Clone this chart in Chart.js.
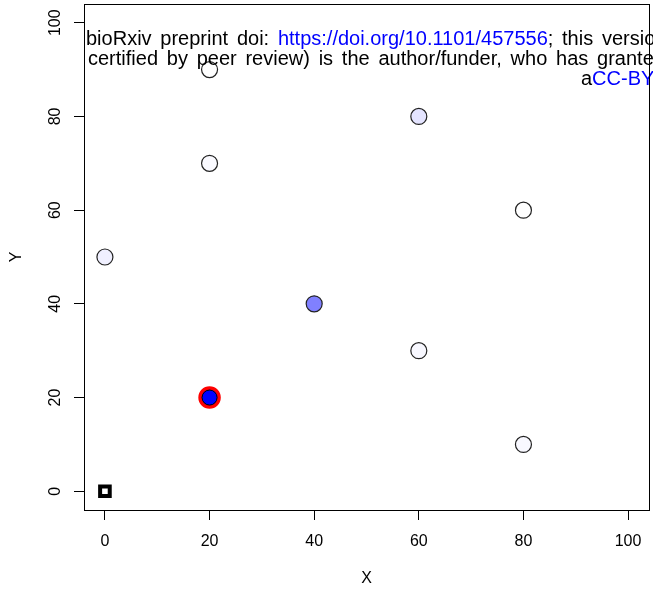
<!DOCTYPE html>
<html>
<head>
<meta charset="utf-8">
<script src="https://cdn.jsdelivr.net/npm/chart.js@4.4.0/dist/chart.umd.min.js"></script>
<style>
  html, body { margin: 0; padding: 0; background: #fff; }
</style>
</head>
<body>
<canvas id="chart" width="653" height="595"></canvas>
<script>
// points
const xValues = [0, 20, 20, 60, 80, 40, 60, 20, 80];
const yValues = [50, 90, 70, 80, 60, 40, 30, 20, 10];
const fillColors = ['#f0f0ff', '#ffffff', '#fafaff', '#e4e4ff', '#ffffff', '#8080ff', '#f8f8ff', '#0000ff', '#f8f8ff'];
const highlightIndex = 7; // the (20,20) point with the red ring
const originX = [0];
const originY = [0];
const tickValues = [0, 20, 40, 60, 80, 100];

// preprint watermark lines: [text, colour]
const noteLine1 = [['bioRxiv preprint doi: ', '#000'], ['https://doi.org/10.1101/457556', '#0000ff'], ['; this version posted October 30, 2018. The copyright holder', '#000']];
const noteLine2 = [['certified by peer review) is the author/funder, who has granted bioRxiv a license', '#000']];
const noteLine3 = [['a', '#000'], ['CC-BY 4.0 International license', '#0000ff']];

const mainPoints = xValues.map((x, i) => ({ x: x, y: yValues[i] }));
const originPoints = originX.map((x, i) => ({ x: x, y: originY[i] }));

const font = 'Liberation Sans, Arial, sans-serif';

function drawNote(ctx, parts, x, y) {
    parts.forEach(p => {
        ctx.fillStyle = p[1];
        ctx.fillText(p[0], x, y);
        x += ctx.measureText(p[0]).width;
    });
}

const notePlugin = {
    id: 'note',
    afterDatasetsDraw(chart) {
        const ctx = chart.ctx;
        ctx.save();
        ctx.font = '20px ' + font;
        ctx.textBaseline = 'alphabetic';
        ctx.textAlign = 'left';
        if ('wordSpacing' in ctx) ctx.wordSpacing = '3.2px';
        drawNote(ctx, noteLine1, 86, 45);
        drawNote(ctx, noteLine2, 88, 65);
        drawNote(ctx, noteLine3, 581, 85);
        ctx.restore();
    }
};

const boxPlugin = {
    id: 'box',
    afterDraw(chart) {
        const a = chart.chartArea;
        const ctx = chart.ctx;
        ctx.save();
        ctx.strokeStyle = '#000';
        ctx.lineWidth = 1;
        ctx.strokeRect(Math.round(a.left) + 0.5, Math.round(a.top) + 0.5,
            Math.round(a.right - a.left), Math.round(a.bottom - a.top));
        ctx.restore();
    }
};

function axisOptions(title, isY) {
    return {
        type: 'linear',
        min: -4,
        max: 104,
        afterBuildTicks: scale => { scale.ticks = tickValues.map(v => ({ value: v })); },
        afterFit: scale => {
            if (isY) scale.width = 84; else scale.height = 85;
            scale.paddingLeft = 0;
            scale.paddingRight = 0;
            scale.paddingTop = 0;
            scale.paddingBottom = 0;
        },
        grid: { display: true, drawOnChartArea: false, drawTicks: true, tickLength: 10, color: '#000' },
        border: { display: true, color: '#000', width: 1 },
        ticks: {
            color: '#000',
            font: { family: font, size: 16 },
            padding: isY ? 5 : 12,
            minRotation: isY ? 90 : 0,
            maxRotation: isY ? 90 : 0,
            crossAlign: isY ? 'center' : 'near'
        },
        title: {
            display: true,
            text: title,
            color: '#000',
            font: { family: font, size: 16 },
            padding: isY ? { top: 7 } : { bottom: 7 }
        }
    };
}

new Chart(document.getElementById('chart').getContext('2d'), {
    type: 'scatter',
    data: {
        datasets: [
            {
                // inner blue disc of the highlighted point
                data: [mainPoints[highlightIndex]],
                backgroundColor: '#0000ff',
                borderColor: '#000',
                borderWidth: 1,
                pointRadius: 7.5
            },
            {
                data: mainPoints,
                backgroundColor: fillColors,
                borderColor: xValues.map((_, i) => i === highlightIndex ? '#ff0000' : '#222'),
                borderWidth: xValues.map((_, i) => i === highlightIndex ? 3.5 : 1.2),
                pointRadius: xValues.map((_, i) => i === highlightIndex ? 9.5 : 8)
            },
            {
                data: originPoints,
                pointStyle: 'rect',
                backgroundColor: '#fff',
                borderColor: '#000',
                borderWidth: 4,
                pointRadius: 6.8
            }
        ]
    },
    options: {
        responsive: false,
        animation: false,
        events: [],
        layout: { autoPadding: false, padding: { top: 4, right: 4, left: 0, bottom: 0 } },
        plugins: { legend: { display: false }, tooltip: { enabled: false } },
        scales: {
            x: axisOptions('X', false),
            y: axisOptions('Y', true)
        }
    },
    plugins: [notePlugin, boxPlugin]
});
</script>
</body>
</html>
